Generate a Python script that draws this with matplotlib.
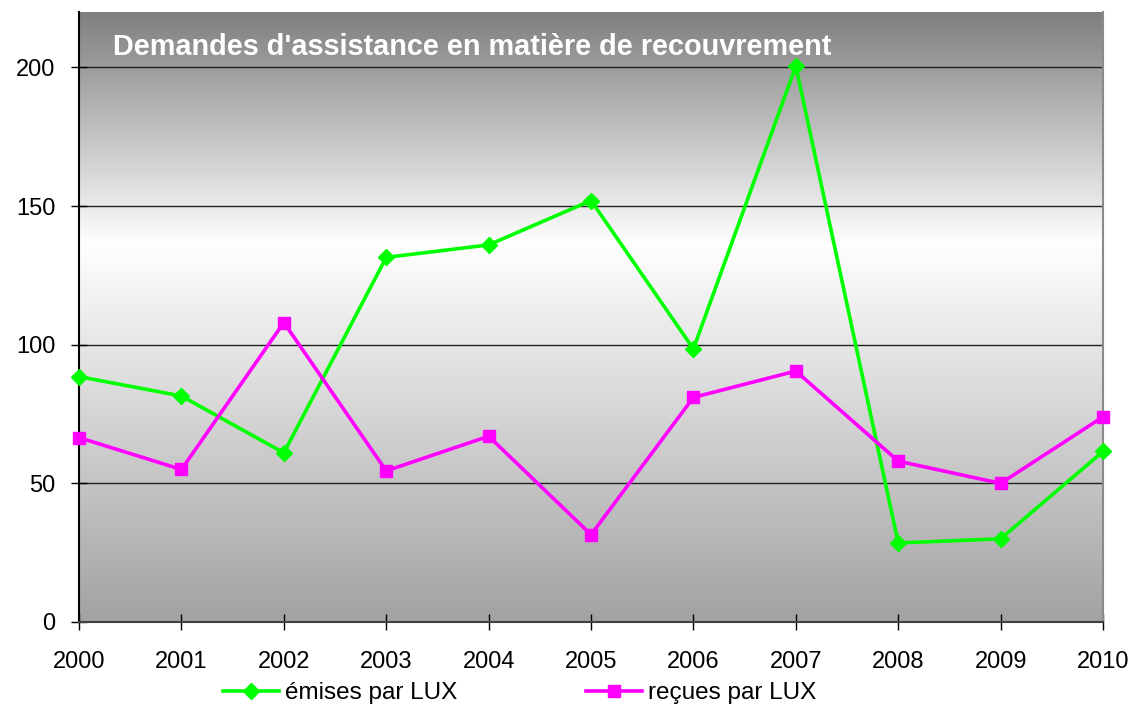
import numpy as np
import matplotlib
matplotlib.use("Agg")
import matplotlib.pyplot as plt
from matplotlib.colors import LinearSegmentedColormap

plt.rcParams["font.family"] = ["Liberation Sans", "DejaVu Sans"]

# données
annees = [2000, 2001, 2002, 2003, 2004, 2005, 2006, 2007, 2008, 2009, 2010]
emises = [88.5, 81.5, 61, 131.5, 136, 152, 98.5, 200.5, 28.5, 30, 61.5]
recues = [66.5, 55, 108, 54.5, 67, 31.5, 81, 90.5, 58, 50, 74]
titre = "Demandes d'assistance en matière de recouvrement"
yticks = [0, 50, 100, 150, 200]

fig = plt.figure(figsize=(11.29, 7.06), dpi=100)
ax = fig.add_axes([0.070, 0.119, 0.907, 0.864])

# fond en dégradé (gris - blanc - gris)
cmap = LinearSegmentedColormap.from_list(
    "fond", [(0.0, "#a2a2a2"), (0.62, "#ffffff"), (1.0, "#7f7f7f")])
grad = np.linspace(0, 1, 256).reshape(-1, 1)
ax.imshow(grad, cmap=cmap, aspect="auto", extent=[0, 1, 0, 1],
          transform=ax.transAxes, origin="lower", zorder=0)

ax.set_xlim(2000, 2010)
ax.set_ylim(0, 220)

for v in yticks[1:]:
    ax.axhline(v, color="#222222", linewidth=1, zorder=1)

ax.plot(annees, emises, color="#00ff00", linewidth=2.6, marker="D",
        markersize=8, label="émises par LUX", zorder=3, clip_on=False)
ax.plot(annees, recues, color="#ff00ff", linewidth=2.6, marker="s",
        markersize=8, label="reçues par LUX", zorder=3, clip_on=False)

ax.text(0.033, 0.942, titre, transform=ax.transAxes, color="white",
        fontsize=20.8, fontweight="bold", va="center", ha="left", zorder=4)

ax.set_xticks(annees)
ax.set_yticks(yticks)
ax.tick_params(axis="both", direction="inout", length=12, width=1,
               labelsize=17)
ax.tick_params(axis="x", pad=15)
ax.tick_params(axis="y", pad=11)

ax.spines["top"].set_visible(False)
ax.spines["right"].set_color("#8a8a8a")
ax.spines["bottom"].set_color("#404040")
ax.spines["left"].set_color("black")
for s in ax.spines.values():
    s.set_linewidth(1.5)

fig.legend(loc="center", bbox_to_anchor=(0.460, 0.018), ncol=2,
           frameon=False, fontsize=17.5, handlelength=2.3, handletextpad=0.25,
           columnspacing=5.3, borderaxespad=0)

fig.savefig("out.png", dpi=100)
